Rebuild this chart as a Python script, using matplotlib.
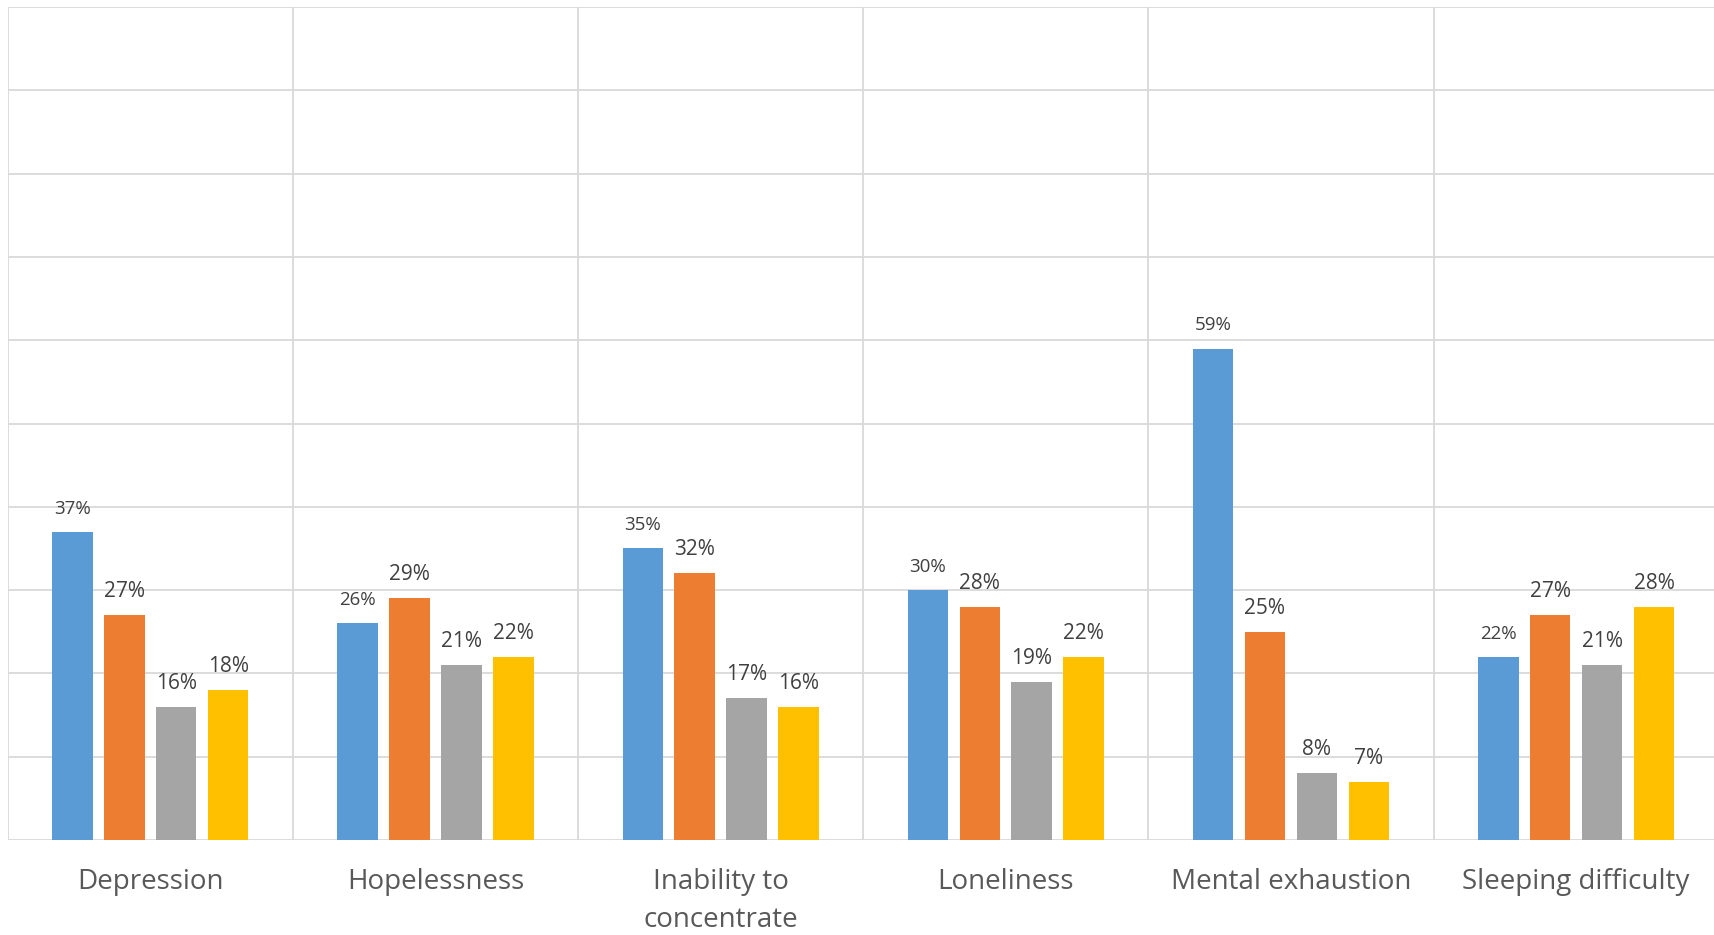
import matplotlib
matplotlib.use("Agg")
import matplotlib.pyplot as plt
import numpy as np

categories = ["Depression", "Hopelessness", "Inability to\nconcentrate",
              "Loneliness", "Mental exhaustion", "Sleeping difficulty"]
series_a = [37, 26, 35, 30, 59, 22]
series_b = [27, 29, 32, 28, 25, 27]
series_c = [16, 21, 17, 19, 8, 21]
series_d = [18, 22, 16, 22, 7, 28]
series = [series_a, series_b, series_c, series_d]
colors = ["#5B9BD5", "#ED7D31", "#A5A5A5", "#FFC000"]
label_sizes = [13.5, 15, 15, 15]

plt.rcParams['font.family'] = ['Open Sans', 'DejaVu Sans']

fig = plt.figure(figsize=(17.15, 9.35), dpi=100)
ax = fig.add_axes([7.7 / 1715, 95 / 935, 1711 / 1715, 833 / 935])

x = np.arange(len(categories))
width = 0.142
pitch = 0.182
for i, (vals, col) in enumerate(zip(series, colors)):
    pos = x + (i - 1.5) * pitch
    bars = ax.bar(pos, vals, width=width, color=col, zorder=3)
    for b, v in zip(bars, vals):
        ax.annotate(f"{v}%", (b.get_x() + b.get_width() / 2, v),
                    xytext=(0, 13), textcoords="offset points",
                    ha="center", va="baseline", fontsize=label_sizes[i],
                    color="#404040", zorder=4)

ax.set_xlim(-0.5, len(categories) - 0.5)
ax.set_ylim(0, 100)
ax.set_yticks(np.arange(0, 101, 10))
ax.set_yticklabels([])
ax.set_xticks(x)
ax.set_xticklabels(categories, fontsize=20, color="#595959", linespacing=1.45)
ax.set_xticks(np.arange(-0.5, len(categories) + 0.5, 1), minor=True)
ax.tick_params(axis="both", which="both", length=0)
ax.tick_params(axis="x", which="major", pad=20.5)
ax.grid(axis="y", color="#d9d9d9", linewidth=1.3, zorder=0)
ax.grid(axis="x", which="minor", color="#d9d9d9", linewidth=1.3, zorder=0)
ax.grid(axis="x", which="major", visible=False)
for s in ax.spines.values():
    s.set_visible(False)

fig.savefig("out.png", dpi=100)
